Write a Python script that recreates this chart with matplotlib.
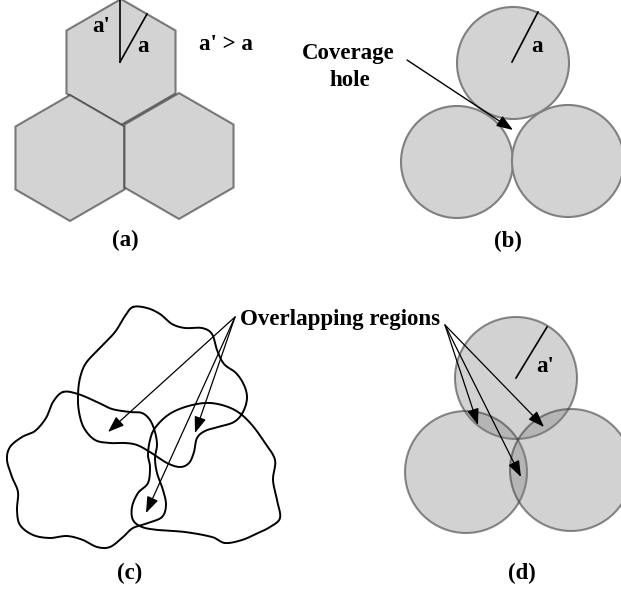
import numpy as np
import matplotlib
matplotlib.use('Agg')
import matplotlib.pyplot as plt
from matplotlib.patches import RegularPolygon, Circle

# all coordinates are picture pixels (x right, y down)
hex_centers = [(121, 62), (70, 158), (179, 156)]
hex_radius = 63

circ_b_centers = [(513, 63), (457, 162), (568, 161)]
circ_b_radius = 56

circ_d_centers = [(516, 378), (466, 472), (571, 470)]
circ_d_radius = 61

blob_top_x = [133, 147, 160, 172, 185, 202, 212, 217, 224, 236, 244, 247, 243, 234, 218, 205, 197, 194, 189,
              180, 167, 150, 137, 125, 110, 95, 84, 79, 78, 80, 86, 100, 115, 125]
blob_top_y = [307, 308, 314, 324, 328, 328, 334, 350, 364, 373, 385, 398, 412, 422, 427, 431, 438, 452, 463,
              467, 463, 452, 445, 443, 443, 440, 428, 412, 395, 378, 363, 348, 332, 316]

blob_left_x = [63, 78, 97, 112, 130, 142, 150, 155, 157, 155, 157, 163, 166, 162, 148, 133, 123, 110, 97,
               83, 67, 50, 33, 20, 17, 18, 12, 7, 10, 22, 35, 46, 53]
blob_left_y = [392, 394, 402, 409, 412, 413, 420, 432, 445, 458, 473, 490, 505, 517, 523, 528, 537, 547, 547,
               540, 536, 538, 535, 525, 510, 492, 477, 460, 447, 437, 431, 418, 402]

blob_right_x = [205, 222, 238, 252, 265, 275, 273, 277, 280, 270, 258, 242, 225, 212, 185, 158, 142, 133,
                132, 138, 148, 150, 148, 150, 155, 168, 185]
blob_right_y = [403, 405, 412, 425, 443, 460, 480, 500, 518, 527, 533, 540, 543, 537, 532, 530, 527, 520,
                507, 493, 483, 467, 455, 440, 428, 415, 407]

arrow_b_start = (407, 60)
arrow_b_end = (513, 130)
arrows_c_start = (235, 317)
arrows_c_ends = [(108, 432), (195, 433), (146, 513)]
arrows_d_start = (445, 325)
arrows_d_ends = [(478, 425), (521, 477), (544, 427)]


def smooth_closed(xs, ys, n=12):
    # closed catmull-rom through the traced outline points
    p = np.column_stack([xs, ys]).astype(float)
    m = len(p)
    out = []
    for i in range(m):
        p0, p1, p2, p3 = p[i - 1], p[i], p[(i + 1) % m], p[(i + 2) % m]
        for t in np.linspace(0, 1, n, endpoint=False):
            t2, t3 = t * t, t * t * t
            out.append(0.5 * ((2 * p1) + (-p0 + p2) * t + (2 * p0 - 5 * p1 + 4 * p2 - p3) * t2
                              + (-p0 + 3 * p1 - 3 * p2 + p3) * t3))
    out.append(out[0])
    out = np.array(out)
    return out[:, 0], out[:, 1]


plt.rcParams['font.family'] = ['Liberation Serif', 'DejaVu Serif']
fig = plt.figure(figsize=(6.21, 5.92), dpi=100)
ax = fig.add_axes([0, 0, 1, 1])
ax.set_xlim(0, 621)
ax.set_ylim(592, 0)
ax.axis('off')

txt = dict(fontsize=16.5, fontweight='bold', color='black')
arrow_style = '-|>,head_length=0.55,head_width=0.2'

# (a) hexagons
for cx, cy in hex_centers:
    ax.add_patch(RegularPolygon((cx, cy), numVertices=6, radius=hex_radius, orientation=0,
                                facecolor='#d3d3d3', edgecolor=(0, 0, 0, 0.48), lw=1.5))
ax.plot([120, 120], [62, 0], color='black', lw=1.2)
ax.plot([120, 147], [62, 14], color='black', lw=1.2)
ax.text(101, 26, "a'", ha='center', va='center', **txt)
ax.text(143, 47, "a", ha='center', va='center', **txt)
ax.text(226, 44, "a' > a", ha='center', va='center', **txt)
ax.text(125, 240, "(a)", ha='center', va='center', **txt)

# (b) tangent circles
for cx, cy in circ_b_centers:
    ax.add_patch(Circle((cx, cy), circ_b_radius, facecolor='#d3d3d3', edgecolor='#808080', lw=1.5))
ax.plot([512, 538], [62, 12], color='black', lw=1.2)
ax.text(537, 47, "a", ha='center', va='center', **txt)
ax.text(348, 53, "Coverage", ha='center', va='center', **txt)
ax.text(350, 81, "hole", ha='center', va='center', **txt)
ax.annotate('', xy=arrow_b_end, xytext=arrow_b_start,
            arrowprops=dict(arrowstyle=arrow_style, color='black', lw=1, mutation_scale=18,
                            shrinkA=0, shrinkB=0))
ax.text(508, 241, "(b)", ha='center', va='center', **txt)

# (c) irregular coverage shapes
for bx, by in [(blob_top_x, blob_top_y), (blob_left_x, blob_left_y), (blob_right_x, blob_right_y)]:
    sx, sy = smooth_closed(bx, by)
    ax.plot(sx, sy, color='black', lw=1.4)
for end in arrows_c_ends:
    ax.annotate('', xy=end, xytext=arrows_c_start,
                arrowprops=dict(arrowstyle=arrow_style, color='black', lw=0.9, mutation_scale=18,
                                shrinkA=0, shrinkB=0))
ax.text(240, 320, "Overlapping regions", ha='left', va='center', **txt)
ax.text(130, 573, "(c)", ha='center', va='center', **txt)

# (d) overlapping circles
for cx, cy in circ_d_centers:
    ax.add_patch(Circle((cx, cy), circ_d_radius, facecolor=(0.5, 0.5, 0.5, 0.35),
                        edgecolor=(0.25, 0.25, 0.25, 0.6), lw=1.5))
ax.plot([516, 547], [378, 327], color='black', lw=1.2)
ax.text(545, 367, "a'", ha='center', va='center', **txt)
for end in arrows_d_ends:
    ax.annotate('', xy=end, xytext=arrows_d_start,
                arrowprops=dict(arrowstyle=arrow_style, color='black', lw=0.9, mutation_scale=18,
                                shrinkA=0, shrinkB=0))
ax.text(522, 573, "(d)", ha='center', va='center', **txt)

fig.savefig('out.png', dpi=100)
